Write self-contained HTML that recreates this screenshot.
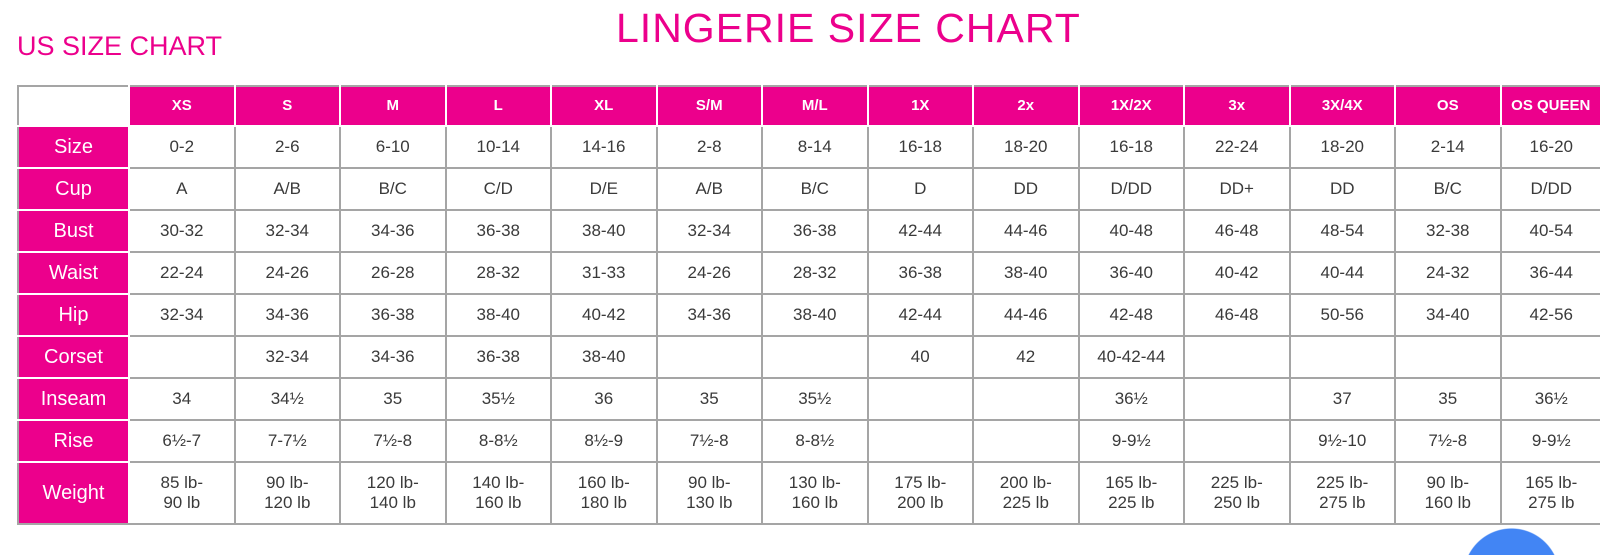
<!DOCTYPE html>
<html><head><meta charset="utf-8"><style>
html,body{margin:0;padding:0;background:#fff;width:1600px;height:555px;overflow:hidden;font-family:"Liberation Sans",sans-serif;}
#wrap{position:relative;width:1600px;height:555px;overflow:hidden;}
.t1{position:absolute;left:616px;top:5px;font-size:41px;color:#ec008c;white-space:nowrap;letter-spacing:1px;}
.t2{position:absolute;left:17px;top:31px;font-size:27px;color:#ec008c;white-space:nowrap;}
table{position:absolute;left:17px;top:85px;border-collapse:collapse;table-layout:fixed;width:1583px;border:2px solid #a5a5a5;border-right:none;}
td{border:2px solid #a5a5a5;text-align:center;color:#3a3a3a;font-size:17px;padding:0;line-height:20px;white-space:nowrap;overflow:hidden;}
tr{height:42px;}
tr.h{height:40px;}
tr.w{height:62px;}
tr.h td{background:#ec008c;color:#fff;font-weight:bold;font-size:15px;border:2px solid #fff;border-top-color:#a5a5a5;}
tr.h td:first-child{background:#fff;border-left-color:#a5a5a5;border-bottom-color:#fff;}
td.l{background:#ec008c;color:#fff;font-size:20px;border-color:#fff;border-left-color:#a5a5a5;}
tr.w td.l{border-bottom-color:#a5a5a5;}
td:last-child{border-right:none;}
.dot{position:absolute;left:1463px;top:528px;width:97px;height:27px;background:radial-gradient(circle 48.5px at 48.5px 48.5px,#4285f4 0,#4285f4 47.5px,rgba(66,133,244,0) 48.5px);}
</style></head><body><div id="wrap">
<div class="t1">LINGERIE SIZE CHART</div>
<div class="t2">US SIZE CHART</div>
<table>
<colgroup><col style="width:111px"><col span="13" style="width:105.5px"><col style="width:100.5px"></colgroup>
<tr class="h"><td></td><td>XS</td><td>S</td><td>M</td><td>L</td><td>XL</td><td>S/M</td><td>M/L</td><td>1X</td><td>2x</td><td>1X/2X</td><td>3x</td><td>3X/4X</td><td>OS</td><td>OS QUEEN</td></tr>
<tr><td class="l">Size</td><td>0-2</td><td>2-6</td><td>6-10</td><td>10-14</td><td>14-16</td><td>2-8</td><td>8-14</td><td>16-18</td><td>18-20</td><td>16-18</td><td>22-24</td><td>18-20</td><td>2-14</td><td>16-20</td></tr>
<tr><td class="l">Cup</td><td>A</td><td>A/B</td><td>B/C</td><td>C/D</td><td>D/E</td><td>A/B</td><td>B/C</td><td>D</td><td>DD</td><td>D/DD</td><td>DD+</td><td>DD</td><td>B/C</td><td>D/DD</td></tr>
<tr><td class="l">Bust</td><td>30-32</td><td>32-34</td><td>34-36</td><td>36-38</td><td>38-40</td><td>32-34</td><td>36-38</td><td>42-44</td><td>44-46</td><td>40-48</td><td>46-48</td><td>48-54</td><td>32-38</td><td>40-54</td></tr>
<tr><td class="l">Waist</td><td>22-24</td><td>24-26</td><td>26-28</td><td>28-32</td><td>31-33</td><td>24-26</td><td>28-32</td><td>36-38</td><td>38-40</td><td>36-40</td><td>40-42</td><td>40-44</td><td>24-32</td><td>36-44</td></tr>
<tr><td class="l">Hip</td><td>32-34</td><td>34-36</td><td>36-38</td><td>38-40</td><td>40-42</td><td>34-36</td><td>38-40</td><td>42-44</td><td>44-46</td><td>42-48</td><td>46-48</td><td>50-56</td><td>34-40</td><td>42-56</td></tr>
<tr><td class="l">Corset</td><td></td><td>32-34</td><td>34-36</td><td>36-38</td><td>38-40</td><td></td><td></td><td>40</td><td>42</td><td>40-42-44</td><td></td><td></td><td></td><td></td></tr>
<tr><td class="l">Inseam</td><td>34</td><td>34½</td><td>35</td><td>35½</td><td>36</td><td>35</td><td>35½</td><td></td><td></td><td>36½</td><td></td><td>37</td><td>35</td><td>36½</td></tr>
<tr><td class="l">Rise</td><td>6½-7</td><td>7-7½</td><td>7½-8</td><td>8-8½</td><td>8½-9</td><td>7½-8</td><td>8-8½</td><td></td><td></td><td>9-9½</td><td></td><td>9½-10</td><td>7½-8</td><td>9-9½</td></tr>
<tr class="w"><td class="l">Weight</td><td>85 lb-<br>90 lb</td><td>90 lb-<br>120 lb</td><td>120 lb-<br>140 lb</td><td>140 lb-<br>160 lb</td><td>160 lb-<br>180 lb</td><td>90 lb-<br>130 lb</td><td>130 lb-<br>160 lb</td><td>175 lb-<br>200 lb</td><td>200 lb-<br>225 lb</td><td>165 lb-<br>225 lb</td><td>225 lb-<br>250 lb</td><td>225 lb-<br>275 lb</td><td>90 lb-<br>160 lb</td><td>165 lb-<br>275 lb</td></tr>
</table>
<div class="dot"></div>
</div></body></html>
